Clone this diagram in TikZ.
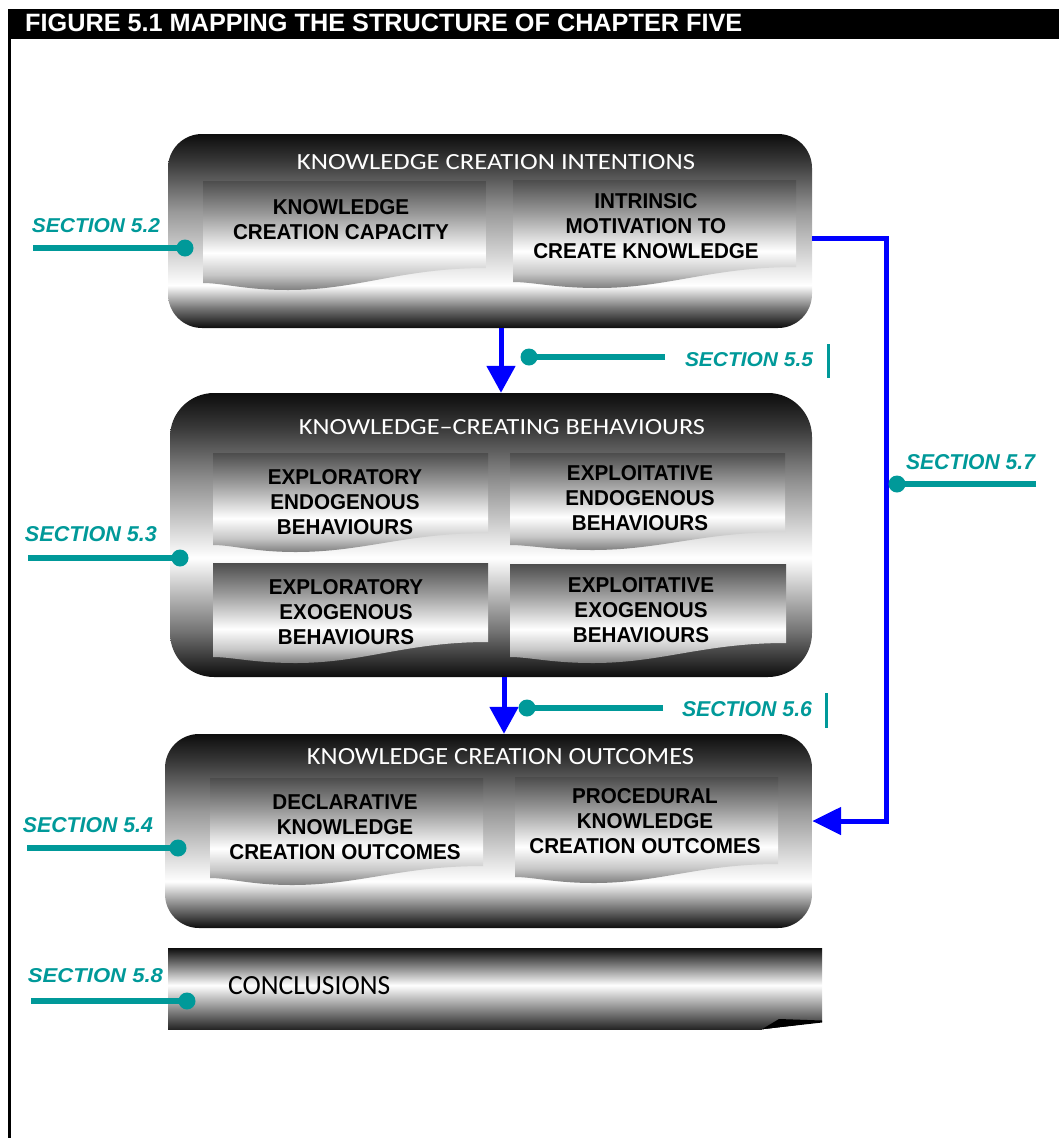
\documentclass[tikz,border=0pt]{standalone}
\usepackage{fontspec}
\usepackage{graphicx}
\setmainfont{Liberation Sans}
\newfontfamily\innerfont[FakeStretch=0.96]{Liberation Sans}
\newfontfamily\titlefont{Carlito}
\usetikzlibrary{arrows.meta}

\definecolor{secteal}{RGB}{0,153,153}
\definecolor{arrowblue}{RGB}{0,0,255}

\pgfdeclareverticalshading{metalA}{100bp}{color(0bp)=(black); color(25bp)=(black!95); color(30bp)=(black!55); color(36bp)=(white); color(55bp)=(black!40); color(68bp)=(black!78); color(75bp)=(black!95); color(100bp)=(black!95)}
\pgfdeclareverticalshading{metalB}{100bp}{color(0bp)=(black); color(25bp)=(black!95); color(33bp)=(black!55); color(46bp)=(white); color(60bp)=(black!45); color(69bp)=(black!78); color(75bp)=(black!95); color(100bp)=(black!95)}
\pgfdeclareverticalshading{metalC}{100bp}{color(0bp)=(black); color(25bp)=(black!95); color(30bp)=(black!55); color(37bp)=(white); color(55bp)=(black!40); color(68bp)=(black!78); color(75bp)=(black!95); color(100bp)=(black!95)}
\pgfdeclareverticalshading{metalD}{100bp}{color(0bp)=(black!85); color(25bp)=(black!85); color(36bp)=(black!50); color(52bp)=(white); color(64bp)=(black!50); color(75bp)=(black!95); color(100bp)=(black!95)}
\pgfdeclareverticalshading{docshade}{100bp}{color(0bp)=(black!50); color(25bp)=(black!50); color(32bp)=(black!22); color(42bp)=(white); color(60bp)=(black!40); color(75bp)=(black!70); color(100bp)=(black!70)}

\newcommand\docpanel[6]{%
  \path[shading=docshade] (#1,#2) -- (#3,#2) -- (#3,#6)
    .. controls ({#3-0.3*(#3-#1)},#6) and ({#1+0.55*(#3-#1)},#5) .. ({#1+0.3*(#3-#1)},#5)
    .. controls ({#1+0.15*(#3-#1)},#5) and ({#1+0.07*(#3-#1)},#4) .. (#1,#4) -- cycle;}

\tikzset{
  bigbox/.style={inner sep=0pt, draw=none},
  innertext/.style={font=\innerfont\bfseries\fontsize{21.5}{25}\selectfont, align=center, inner sep=0pt, text=black},
  titletext/.style={text=white, inner sep=0pt},
  seclabel/.style={text=secteal, inner sep=0pt, font=\bfseries\itshape},
  tealdot/.style={circle, fill=secteal, minimum size=17pt, inner sep=0pt},
  tealline/.style={secteal, line width=5.5pt},
  bluearrow/.style={arrowblue, line width=5pt, -{Triangle[length=27pt, width=28pt]}}
}

\begin{document}
\begin{tikzpicture}[x=1pt, y=-1pt]
\useasboundingbox (0,0) rectangle (1059,1138);

% header
\node[fill=black, anchor=north west, minimum width=1051pt, minimum height=30pt, inner sep=0pt] (hdr) at (8,9) {};
\node[anchor=west, text=white, inner sep=0pt, font=\bfseries] (hdrt) at (25,23.25) {\resizebox{717pt}{17.5pt}{FIGURE 5.1 MAPPING THE STRUCTURE OF CHAPTER FIVE}};
\draw[line width=3pt] (9.5,39) -- (9.5,1138);

% big boxes
\node[bigbox, shading=metalA, minimum width=644pt, minimum height=194pt, rounded corners=34pt] (kci) at (490,231) {};
\node[bigbox, shading=metalB, minimum width=642pt, minimum height=284pt, rounded corners=44pt] (kcb) at (491,535) {};
\node[bigbox, shading=metalC, minimum width=647pt, minimum height=194pt, rounded corners=34pt] (kco) at (488.5,831) {};
\node[bigbox, shading=metalD, minimum width=654pt, minimum height=81pt] (conc) at (495,988.5) {};
\fill[white] (762,1029.5) -- (822,1022) -- (823,1022) -- (823,1031) -- (762,1031) -- cycle;
\fill[black] (762,1029.2) -- (779,1019) -- (822,1020.5) -- (822,1022.5) -- cycle;

% titles
\node[titletext] (t1) at (496,162.5) {\resizebox{398pt}{15pt}{\titlefont KNOWLEDGE CREATION INTENTIONS}};
\node[titletext] (t2) at (502,427.5) {\resizebox{406pt}{15pt}{\titlefont KNOWLEDGE–CREATING BEHAVIOURS}};
\node[titletext] (t3) at (500.5,756.5) {\resizebox{387pt}{16pt}{\titlefont KNOWLEDGE CREATION OUTCOMES}};
\node[anchor=west, text=black, inner sep=0pt] (t4) at (228,986) {\resizebox{162pt}{18pt}{\titlefont CONCLUSIONS}};

% inner panels
\docpanel{203}{181}{486}{283}{290}{268}
\docpanel{513}{180}{796}{282}{288}{267}
\docpanel{213}{453}{488}{545}{552}{533}
\docpanel{510}{453}{785}{545}{550}{532}
\docpanel{213}{563}{488}{657}{663}{642}
\docpanel{510}{564}{786}{657}{663}{643}
\docpanel{210}{778}{483}{878}{885}{866}
\docpanel{515}{777}{778}{877}{883}{864}

\node[innertext] (p1) at (341,220) {KNOWLEDGE\\CREATION CAPACITY};
\node[innertext] (p2) at (646,226.5) {INTRINSIC\\MOTIVATION TO\\CREATE KNOWLEDGE};
\node[innertext] (p3) at (345,502.5) {EXPLORATORY\\ENDOGENOUS\\BEHAVIOURS};
\node[innertext] (p4) at (640,498.5) {EXPLOITATIVE\\ENDOGENOUS\\BEHAVIOURS};
\node[innertext] (p5) at (346,612.5) {EXPLORATORY\\EXOGENOUS\\BEHAVIOURS};
\node[innertext] (p6) at (641,610.5) {EXPLOITATIVE\\EXOGENOUS\\BEHAVIOURS};
\node[innertext] (p7) at (345,827.5) {DECLARATIVE\\KNOWLEDGE\\CREATION OUTCOMES};
\node[innertext] (p8) at (645,821.5) {PROCEDURAL\\KNOWLEDGE\\CREATION OUTCOMES};

% blue arrows
\coordinate (x1) at (501,0);
\coordinate (x2) at (504,0);
\coordinate (c57a) at (886,238);
\coordinate (c57b) at (886,821);
\draw[bluearrow] (kci.south -| x1) -- (kcb.north -| x1);
\draw[bluearrow] (kcb.south -| x2) -- (kco.north -| x2);
\draw[arrowblue, line width=5pt, -{Triangle[length=29pt, width=27pt]}] (kci.east |- c57a) -| (c57b) -- (kco.east |- c57b);

% section labels
\node[seclabel] (s52) at (96,226) {\resizebox{128pt}{14pt}{SECTION 5.2}};
\node[seclabel] (s53) at (91,534.5) {\resizebox{132pt}{15pt}{SECTION 5.3}};
\node[seclabel] (s54) at (88,825.5) {\resizebox{130pt}{15pt}{SECTION 5.4}};
\node[seclabel] (s55) at (749,360) {\resizebox{128pt}{14pt}{SECTION 5.5}};
\node[seclabel] (s56) at (747,709.5) {\resizebox{130pt}{15pt}{SECTION 5.6}};
\node[seclabel] (s57) at (970.5,462.5) {\resizebox{129pt}{15pt}{SECTION 5.7}};
\node[seclabel] (s58) at (95.5,976) {\resizebox{135pt}{14pt}{SECTION 5.8}};

\node[tealdot] (d52) at (185,248) {};
\node[tealdot] (d53) at (180,558) {};
\node[tealdot] (d54) at (178,848) {};
\node[tealdot] (d55) at (529,357) {};
\node[tealdot] (d56) at (527,708) {};
\node[tealdot] (d57) at (897,484) {};
\node[tealdot] (d58) at (187,1001) {};

\coordinate (e52) at (33,248);
\coordinate (e53) at (28,558);
\coordinate (e54) at (27,848);
\coordinate (e55) at (665,357);
\coordinate (e56) at (663,708);
\coordinate (e57) at (1036,484);
\coordinate (e58) at (31,1001);
\draw[tealline] (e52) -- (d52.center);
\draw[tealline] (e53) -- (d53.center);
\draw[tealline] (e54) -- (d54.center);
\draw[tealline] (e55) -- (d55.center);
\draw[tealline] (e56) -- (d56.center);
\draw[tealline] (e57) -- (d57.center);
\draw[tealline] (e58) -- (d58.center);

\draw[secteal, line width=3pt] (828,344) -- (828,378);
\draw[secteal, line width=3pt] (826,693) -- (826,728);
\end{tikzpicture}
\end{document}
